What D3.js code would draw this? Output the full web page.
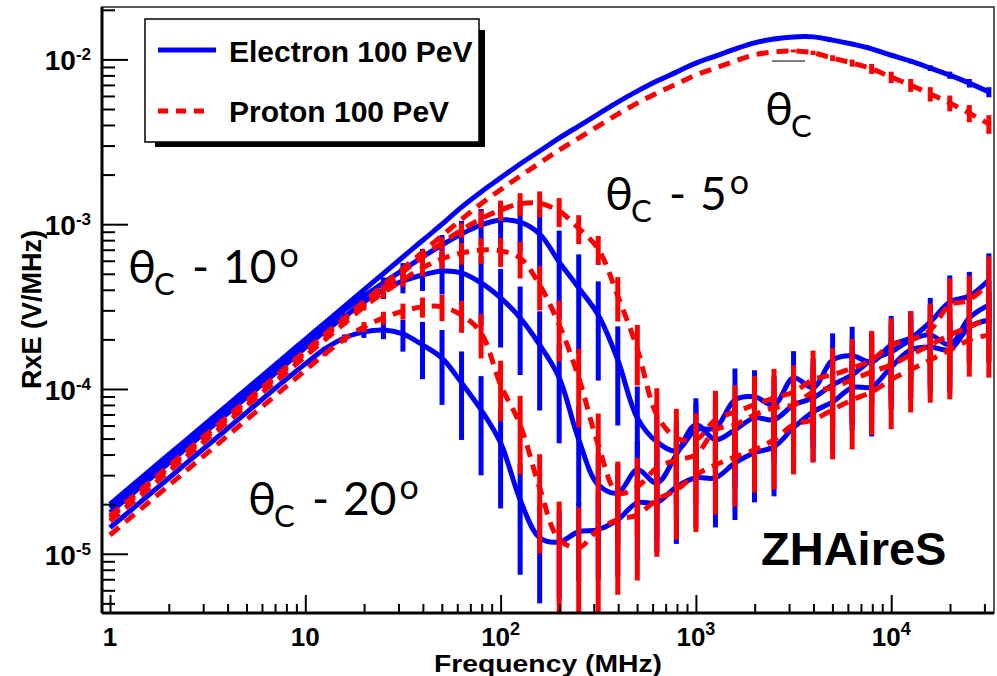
<!DOCTYPE html>
<html>
<head>
<meta charset="utf-8">
<script src="https://cdn.jsdelivr.net/npm/d3@7"></script>
<style>
  body { margin: 0; background: #fff; }
  svg { display: block; }
  .root { font-family: "Liberation Sans", Arial, Helvetica, sans-serif; font-weight: bold; }
  .ann { font-family: Lato, "Open Sans", "DejaVu Sans", sans-serif; }
</style>
</head>
<body>
<svg id="chart" width="997" height="676"></svg>
<script>
// frequency points (MHz), 10 per decade
const frequency = [1, 1.259, 1.585, 1.995, 2.512, 3.162, 3.981, 5.012, 6.310, 7.943,
  10, 12.59, 15.85, 19.95, 25.12, 31.62, 39.81, 50.12, 63.10, 79.43,
  100, 125.9, 158.5, 199.5, 251.2, 316.2, 398.1, 501.2, 631.0, 794.3,
  1000, 1259, 1585, 1995, 2512, 3162, 3981, 5012, 6310, 7943,
  10000, 12589, 15849, 19953, 25119, 31623];

// RxE (V/MHz) -- electron (blue) and proton (red) at theta_C, -5, -10, -20 deg
const eThetaC = [2.0e-5, 2.52e-5, 3.17e-5, 3.99e-5, 5.02e-5, 6.32e-5, 7.96e-5, 1.0e-4, 1.26e-4, 1.59e-4,
  2.0e-4, 2.52e-4, 3.17e-4, 3.99e-4, 5.02e-4, 6.32e-4, 7.96e-4, 1.0e-3, 1.27e-3, 1.57e-3,
  1.91e-3, 2.32e-3, 2.78e-3, 3.33e-3, 3.94e-3, 4.66e-3, 5.51e-3, 6.42e-3, 7.39e-3, 8.37e-3,
  9.50e-3, 1.047e-2, 1.155e-2, 1.26e-2, 1.33e-2, 1.37e-2, 1.37e-2, 1.31e-2, 1.24e-2, 1.16e-2,
  1.06e-2, 9.76e-3, 8.86e-3, 8.03e-3, 7.18e-3, 6.34e-3];
const pThetaC = [1.70e-5, 2.14e-5, 2.69e-5, 3.39e-5, 4.27e-5, 5.38e-5, 6.77e-5, 8.52e-5, 1.07e-4, 1.35e-4,
  1.70e-4, 2.14e-4, 2.69e-4, 3.39e-4, 4.27e-4, 5.38e-4, 6.77e-4, 8.52e-4, 1.07e-3, 1.33e-3,
  1.62e-3, 1.96e-3, 2.35e-3, 2.82e-3, 3.33e-3, 3.94e-3, 4.66e-3, 5.43e-3, 6.25e-3, 7.08e-3,
  8.04e-3, 8.86e-3, 9.77e-3, 1.066e-2, 1.109e-2, 1.126e-2, 1.096e-2, 1.019e-2, 9.51e-3, 8.77e-3,
  7.80e-3, 6.98e-3, 6.17e-3, 5.44e-3, 4.72e-3, 4.06e-3];
const eTheta5 = [1.90e-5, 2.39e-5, 3.01e-5, 3.79e-5, 4.77e-5, 6.01e-5, 7.56e-5, 9.52e-5, 1.20e-4, 1.51e-4,
  1.90e-4, 2.39e-4, 3.01e-4, 3.66e-4, 4.40e-4, 5.28e-4, 6.32e-4, 7.48e-4, 8.72e-4, 9.89e-4,
  1.06e-3, 1.03e-3, 8.72e-4, 5.90e-4, 4.10e-4, 2.81e-4, 1.50e-4, 6.68e-5, 4.78e-5, 4.21e-5,
  5.65e-5, 5.81e-5, 8.59e-5, 8.96e-5, 8.01e-5, 1.17e-4, 1.02e-4, 1.50e-4, 1.59e-4, 1.46e-4,
  1.85e-4, 2.04e-4, 2.55e-4, 3.37e-4, 3.67e-4, 4.59e-4];
const pTheta5 = [1.65e-5, 2.08e-5, 2.62e-5, 3.29e-5, 4.14e-5, 5.22e-5, 6.57e-5, 8.27e-5, 1.04e-4, 1.31e-4,
  1.65e-4, 2.08e-4, 2.62e-4, 3.29e-4, 4.10e-4, 5.13e-4, 6.32e-4, 7.69e-4, 9.22e-4, 1.08e-3,
  1.22e-3, 1.33e-3, 1.34e-3, 1.20e-3, 9.45e-4, 7.07e-4, 3.67e-4, 1.75e-4, 6.97e-5, 5.05e-5,
  4.92e-5, 6.50e-5, 7.27e-5, 8.0e-5, 8.83e-5, 9.59e-5, 1.14e-4, 1.22e-4, 1.34e-4, 1.50e-4,
  1.85e-4, 1.98e-4, 2.28e-4, 3.23e-4, 3.47e-4, 4.40e-4];
const eTheta10 = [1.78e-5, 2.24e-5, 2.82e-5, 3.55e-5, 4.47e-5, 5.63e-5, 7.09e-5, 8.92e-5, 1.12e-4, 1.41e-4,
  1.78e-4, 2.24e-4, 2.74e-4, 3.38e-4, 3.99e-4, 4.53e-4, 4.92e-4, 5.20e-4, 5.06e-4, 4.40e-4,
  3.57e-4, 2.70e-4, 1.85e-4, 1.17e-4, 4.92e-5, 2.62e-5, 2.34e-5, 3.23e-5, 2.69e-5, 3.99e-5,
  6.06e-5, 4.92e-5, 5.65e-5, 6.68e-5, 6.50e-5, 8.0e-5, 8.83e-5, 1.06e-4, 1.22e-4, 1.50e-4,
  1.68e-4, 1.98e-4, 2.13e-4, 1.85e-4, 2.70e-4, 3.23e-4];
const pTheta10 = [1.58e-5, 1.99e-5, 2.50e-5, 3.15e-5, 3.97e-5, 5.0e-5, 6.29e-5, 7.92e-5, 9.97e-5, 1.25e-4,
  1.58e-4, 1.99e-4, 2.50e-4, 3.15e-4, 3.83e-4, 4.59e-4, 5.43e-4, 6.16e-4, 6.69e-4, 6.98e-4,
  6.88e-4, 6.24e-4, 4.28e-4, 2.45e-4, 1.17e-4, 4.58e-5, 2.34e-5, 2.55e-5, 3.32e-5, 3.71e-5,
  3.99e-5, 5.65e-5, 6.06e-5, 6.97e-5, 7.68e-5, 8.0e-5, 9.59e-5, 1.02e-4, 1.14e-4, 1.27e-4,
  1.40e-4, 1.61e-4, 1.85e-4, 2.13e-4, 2.38e-4, 2.70e-4];
const eTheta20 = [1.44e-5, 1.81e-5, 2.28e-5, 2.87e-5, 3.62e-5, 4.55e-5, 5.73e-5, 7.22e-5, 9.09e-5, 1.14e-4,
  1.42e-4, 1.75e-4, 2.04e-4, 2.22e-4, 2.28e-4, 2.16e-4, 1.85e-4, 1.54e-4, 1.09e-4, 7.48e-5,
  4.71e-5, 2.13e-5, 1.25e-5, 1.18e-5, 1.36e-5, 1.40e-5, 1.61e-5, 2.04e-5, 2.04e-5, 2.55e-5,
  2.89e-5, 2.89e-5, 3.56e-5, 4.10e-5, 4.46e-5, 5.82e-5, 7.27e-5, 8.34e-5, 1.02e-4, 1.03e-4,
  1.36e-4, 1.73e-4, 1.80e-4, 1.73e-4, 2.38e-4, 2.62e-4];
const pTheta20 = [1.30e-5, 1.64e-5, 2.06e-5, 2.59e-5, 3.27e-5, 4.11e-5, 5.18e-5, 6.52e-5, 8.20e-5, 1.03e-4,
  1.30e-4, 1.63e-4, 2.01e-4, 2.38e-4, 2.70e-4, 2.97e-4, 3.15e-4, 3.15e-4, 2.81e-4, 2.19e-4,
  1.06e-4, 6.06e-5, 2.51e-5, 1.22e-5, 1.09e-5, 1.40e-5, 1.61e-5, 1.72e-5, 2.13e-5, 2.44e-5,
  3.01e-5, 3.46e-5, 3.87e-5, 4.27e-5, 4.92e-5, 6.06e-5, 6.50e-5, 7.48e-5, 8.59e-5, 9.59e-5,
  1.14e-4, 1.31e-4, 1.50e-4, 1.73e-4, 1.98e-4, 2.13e-4];

// relative errors (fraction of value)
const eThetaCErr = [0,0,0,0,0,0,0,0,0,0, 0,0,0,0,0,0,0,0,0,0, 0,0,0,0,0,0,0,0,0,0,
  0,0,0,0,0,0,0,0,0.02,0.02, 0.03,0.03,0.04,0.05,0.06,0.07];
const pThetaCErr = [0,0,0,0,0,0,0,0,0,0, 0,0,0,0,0,0,0,0,0,0, 0,0,0,0,0,0,0,0,0,0,
  0,0,0,0,0,0.02,0.03,0.04,0.05,0.07, 0.08,0.09,0.10,0.11,0.12,0.13];
const eTheta5Err = [0,0,0,0,0,0,0,0,0,0, 0,0,0,0.05,0.08,0.1,0.12,0.15,0.2,0.25,
  0.28,0.35,0.42,0.55,0.6,0.6,0.6,0.55,0.45,0.5, 0.45,0.5,0.55,0.45,0.5,0.45,0.5,0.45,0.5,0.45,
  0.5,0.45,0.4,0.45,0.4,0.45];
const pTheta5Err = [0,0,0,0,0,0,0,0,0,0, 0,0,0,0,0.05,0.06,0.07,0.08,0.1,0.12,
  0.14,0.16,0.18,0.2,0.2,0.2,0.3,0.4,0.45,0.5, 0.45,0.5,0.45,0.5,0.5,0.45,0.5,0.45,0.5,0.5,
  0.45,0.5,0.45,0.45,0.4,0.45];
const eTheta10Err = [0,0,0,0,0,0,0,0,0,0, 0,0,0.05,0.08,0.12,0.16,0.2,0.28,0.35,0.45,
  0.5,0.55,0.6,0.6,0.6,0.55,0.5,0.5,0.55,0.5, 0.45,0.5,0.55,0.5,0.45,0.5,0.5,0.45,0.5,0.45,
  0.5,0.45,0.5,0.45,0.45,0.4];
const pTheta10Err = [0,0,0,0,0,0,0,0,0,0, 0,0,0.03,0.05,0.07,0.09,0.11,0.13,0.15,0.18,
  0.2,0.25,0.3,0.4,0.5,0.55,0.55,0.5,0.5,0.55, 0.5,0.5,0.45,0.5,0.5,0.45,0.5,0.5,0.45,0.5,
  0.45,0.45,0.5,0.45,0.4,0.45];
const eTheta20Err = [0,0,0,0,0,0,0,0,0,0, 0,0.03,0.05,0.08,0.12,0.22,0.38,0.48,0.55,0.6,
  0.6,0.65,0.6,0.55,0.5,0.5,0.55,0.55,0.5,0.55, 0.5,0.5,0.55,0.5,0.5,0.45,0.5,0.5,0.45,0.5,
  0.45,0.5,0.45,0.45,0.4,0.45];
const pTheta20Err = [0,0,0,0,0,0,0,0,0,0, 0,0.03,0.05,0.07,0.09,0.11,0.14,0.18,0.22,0.3,
  0.4,0.5,0.6,0.7,0.75,0.7,0.65,0.6,0.55,0.5, 0.55,0.5,0.5,0.45,0.5,0.5,0.45,0.5,0.5,0.45,
  0.5,0.45,0.45,0.5,0.4,0.45];

const xMajor = [1, 10, 100, 1000, 10000];
const yMajor = [1e-5, 1e-4, 1e-3, 1e-2];

const electron = [
  {v: eThetaC, r: eThetaCErr}, {v: eTheta5, r: eTheta5Err},
  {v: eTheta10, r: eTheta10Err}, {v: eTheta20, r: eTheta20Err}];
const proton = [
  {v: pThetaC, r: pThetaCErr}, {v: pTheta5, r: pTheta5Err},
  {v: pTheta10, r: pTheta10Err}, {v: pTheta20, r: pTheta20Err}];

const BLUE = "#0000ff", RED = "#ff0000";

const svg = d3.select("#chart");
const margin = { top: 7, right: 3, bottom: 63, left: 102 };
const width = 997 - margin.left - margin.right;
const height = 676 - margin.top - margin.bottom;

const g = svg.append("g").attr("transform", `translate(${margin.left},${margin.top})`);

const x = d3.scaleLog().domain([0.91, 33600]).range([0, width]);
const y = d3.scaleLog().domain([4.37e-6, 0.0208]).range([height, 0]);

g.append("clipPath").attr("id", "plotClip")
  .append("rect").attr("width", width).attr("height", height);
const plot = g.append("g").attr("clip-path", "url(#plotClip)");

const line = d3.line()
  .x((d, i) => x(frequency[i]))
  .y(d => y(d))
  .curve(d3.curveCatmullRom.alpha(0.5));

function drawBars(list, color) {
  list.forEach(s => {
    const pts = s.v.map((v, i) => ({ f: frequency[i], v: v, r: s.r[i] })).filter(d => d.r > 0);
    plot.append("g").selectAll("line")
      .data(pts)
      .enter()
      .append("line")
      .attr("x1", d => x(d.f)).attr("x2", d => x(d.f))
      .attr("y1", d => y(d.v * (1 + d.r)))
      .attr("y2", d => y(Math.max(d.v * (1 - d.r), 1e-7)))
      .attr("stroke", color)
      .attr("stroke-width", 5);
  });
}
function drawCurves(list, color, dash) {
  list.forEach(s => {
    plot.append("path")
      .attr("d", line(s.v))
      .attr("fill", "none")
      .attr("stroke", color)
      .attr("stroke-width", 5)
      .attr("stroke-dasharray", dash);
  });
}

drawBars(electron, BLUE);
drawCurves(electron, BLUE, null);
drawBars(proton, RED);
drawCurves(proton, RED, "12,8");

// ---- axes (ROOT style, ticks inside) ----
function minorTicks(lo, hi, scaleDomain) {
  const out = [];
  for (let e = lo; e <= hi; e++)
    for (let m = 2; m <= 9; m++) {
      const t = m * Math.pow(10, e);
      if (t > scaleDomain[0] && t < scaleDomain[1]) out.push(t);
    }
  return out;
}

g.append("g")
  .call(d3.axisLeft(y).tickValues(yMajor).tickSizeInner(-26).tickSizeOuter(0).tickFormat(() => ""))
  .call(a => a.select(".domain").remove())
  .selectAll("line").attr("stroke", "#000").attr("stroke-width", 2);
g.append("g")
  .call(d3.axisLeft(y).tickValues(minorTicks(-6, -2, y.domain())).tickSizeInner(-13).tickSizeOuter(0).tickFormat(() => ""))
  .call(a => a.select(".domain").remove())
  .selectAll("line").attr("stroke", "#000").attr("stroke-width", 2);

g.append("g")
  .attr("transform", `translate(0,${height})`)
  .call(d3.axisBottom(x).tickValues(xMajor).tickSizeInner(-18).tickSizeOuter(0).tickFormat(() => ""))
  .call(a => a.select(".domain").remove())
  .selectAll("line").attr("stroke", "#000").attr("stroke-width", 2);
g.append("g")
  .attr("transform", `translate(0,${height})`)
  .call(d3.axisBottom(x).tickValues(minorTicks(0, 4, x.domain())).tickSizeInner(-9).tickSizeOuter(0).tickFormat(() => ""))
  .call(a => a.select(".domain").remove())
  .selectAll("line").attr("stroke", "#000").attr("stroke-width", 2);

// frame
g.append("rect").attr("width", width).attr("height", height)
  .attr("fill", "none").attr("stroke", "#222").attr("stroke-width", 1.5);
g.append("line").attr("x1", 0).attr("x2", 0).attr("y1", 0).attr("y2", height)
  .attr("stroke", "#000").attr("stroke-width", 3);
g.append("line").attr("x1", 0).attr("x2", width).attr("y1", height).attr("y2", height)
  .attr("stroke", "#000").attr("stroke-width", 3);

// tick labels
yMajor.forEach(t => {
  const e = Math.round(Math.log10(t));
  const txt = svg.append("text").attr("class", "root")
    .attr("x", 91).attr("y", margin.top + y(t) + 11)
    .attr("text-anchor", "end").attr("font-size", 28);
  txt.append("tspan").text("10");
  txt.append("tspan").attr("dy", -10).attr("font-size", 17).text(String(e));
});
xMajor.forEach(t => {
  const e = Math.round(Math.log10(t));
  const txt = svg.append("text").attr("class", "root")
    .attr("x", margin.left + x(t)).attr("y", 646)
    .attr("text-anchor", "middle").attr("font-size", 26);
  if (e === 0) txt.text("1");
  else if (e === 1) txt.text("10");
  else {
    txt.append("tspan").text("10");
    txt.append("tspan").attr("dy", -11).attr("font-size", 18).text(String(e));
  }
});

svg.append("text").attr("class", "root")
  .attr("x", 662).attr("y", 672).attr("text-anchor", "end").attr("font-size", 24)
  .attr("textLength", 228).attr("lengthAdjust", "spacingAndGlyphs")
  .text("Frequency (MHz)");
svg.append("text").attr("class", "root")
  .attr("transform", "translate(41,230) rotate(-90)")
  .attr("text-anchor", "end").attr("font-size", 27)
  .text("RxE (V/MHz)");

// legend
svg.append("rect").attr("x", 155).attr("y", 30).attr("width", 330).attr("height", 117).attr("fill", "#000");
svg.append("rect").attr("x", 145).attr("y", 19).attr("width", 334).attr("height", 123)
  .attr("fill", "#fff").attr("stroke", "#000").attr("stroke-width", 1.5);
svg.append("line").attr("x1", 158).attr("x2", 216).attr("y1", 50).attr("y2", 50)
  .attr("stroke", BLUE).attr("stroke-width", 5);
svg.append("line").attr("x1", 158).attr("x2", 212).attr("y1", 111).attr("y2", 111)
  .attr("stroke", RED).attr("stroke-width", 5).attr("stroke-dasharray", "10,8");
svg.append("text").attr("class", "root").attr("x", 229).attr("y", 62).attr("font-size", 30).text("Electron 100 PeV");
svg.append("text").attr("class", "root").attr("x", 229).attr("y", 122).attr("font-size", 30).text("Proton 100 PeV");

// angle annotations
function angleLabel(x0, yb, num) {
  const a = svg.append("g").attr("class", "ann").attr("fill", "#000");
  a.append("text").attr("x", x0).attr("y", yb).attr("font-size", 47).text("θ");
  a.append("text").attr("x", x0 + 26).attr("y", yb + 12).attr("font-size", 31).text("C");
  if (num) {
    a.append("text").attr("x", x0 + 64).attr("y", yb).attr("font-size", 46).text("-");
    const t = a.append("text").attr("x", x0 + 95).attr("y", yb).attr("font-size", 46).text(num);
    const w = t.node().getComputedTextLength();
    a.append("text").attr("x", x0 + 95 + w + 3).attr("y", yb - 16).attr("font-size", 34).text("o");
  }
}
angleLabel(128, 283, "10");
angleLabel(248, 515, "20");
angleLabel(605, 210, "5");
angleLabel(765, 125, null);
svg.append("line").attr("x1", 772).attr("x2", 805).attr("y1", 61).attr("y2", 61)
  .attr("stroke", "#000").attr("stroke-width", 1.2);

svg.append("text").attr("class", "root").attr("x", 761).attr("y", 565).attr("font-size", 47).text("ZHAireS");
</script>
</body>
</html>
